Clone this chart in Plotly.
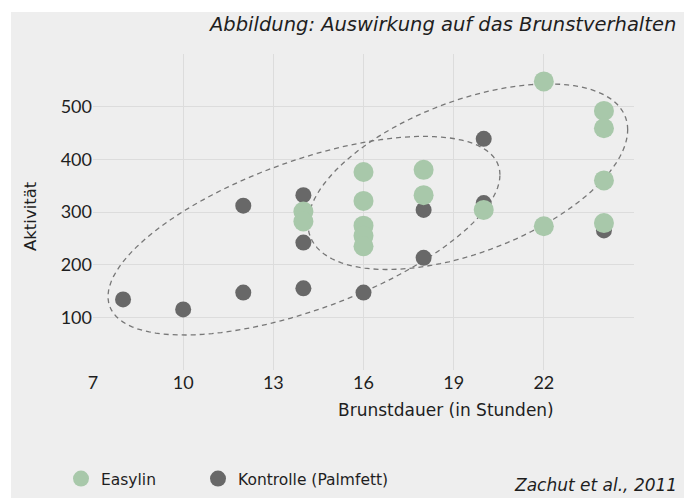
import numpy as np
import plotly.graph_objects as go

# ---------------- data ----------------
easylin_x = [14, 14, 16, 16, 16, 16, 16, 18, 18, 20, 22, 22, 24, 24, 24, 24]
easylin_y = [301, 282, 376, 321, 274, 255, 235, 380, 332, 304, 548, 273, 492, 459, 360, 279]

kontrolle_x = [8, 10, 12, 12, 14, 14, 14, 16, 18, 18, 20, 20, 24]
kontrolle_y = [134, 115, 312, 147, 332, 242, 155, 147, 304, 213, 439, 317, 265]

x_ticks = [7, 10, 13, 16, 19, 22]
x_grid = [10, 13, 16, 19, 22]
y_ticks = [100, 200, 300, 400, 500]

# ellipse outlines (center, conjugate semi-axis vectors) in data units
ellipse_kontrolle = dict(cx=14.02, cy=255, ux=6.52, uy=115.6, vx=0.0, vy=149)
ellipse_easylin = dict(cx=19.47, cy=367, ux=5.32, uy=89.1, vx=0.0, vy=152)

# ---------------- layout constants ----------------
W, H = 684, 498
ML, MR, MT, MB = 93, 50, 54, 128
PW, PH = W - ML - MR, H - MT - MB

FONT = "DejaVu Sans"
TICKFONT = "Lato"
BG = "#eeeeee"
GREEN = "#a8c8aa"
GRAY = "#686868"
TXT = "#1e1e1e"


def px2x(px):
    return (px - ML) / PW


def py2y(py):
    return 1 - (py - MT) / PH


def ellipse_path(e, n=120):
    t = np.linspace(0, 2 * np.pi, n)
    xs = e["cx"] + e["ux"] * np.cos(t) + e["vx"] * np.sin(t)
    ys = e["cy"] + e["uy"] * np.cos(t) + e["vy"] * np.sin(t)
    pts = [f"{x:.4f},{y:.3f}" for x, y in zip(xs, ys)]
    return "M " + " L ".join(pts) + " Z"


fig = go.Figure()

fig.add_trace(go.Scatter(
    x=kontrolle_x, y=kontrolle_y, mode="markers", name="Kontrolle (Palmfett)",
    marker=dict(color=GRAY, size=16, line=dict(width=0)), legend="legend2",
))
fig.add_trace(go.Scatter(
    x=easylin_x, y=easylin_y, mode="markers", name="Easylin",
    marker=dict(color=GREEN, size=20, line=dict(width=0)), legend="legend",
))

shapes = []
for e in (ellipse_kontrolle, ellipse_easylin):
    shapes.append(dict(type="path", xref="x", yref="y", path=ellipse_path(e),
                       line=dict(color="#777777", width=1.3, dash="5px,4px"),
                       layer="between"))
# white frame strips (top / left)
shapes.append(dict(type="rect", xref="paper", yref="paper",
                   x0=px2x(-5), x1=px2x(W + 5), y0=py2y(12), y1=py2y(-5),
                   fillcolor="white", line=dict(width=0), layer="below"))
shapes.append(dict(type="rect", xref="paper", yref="paper",
                   x0=px2x(-5), x1=px2x(11), y0=py2y(H + 5), y1=py2y(-5),
                   fillcolor="white", line=dict(width=0), layer="below"))

annotations = [
    dict(text="<i>Abbildung: Auswirkung auf das Brunstverhalten</i>",
         xref="paper", yref="paper", x=px2x(678), y=py2y(25),
         xanchor="right", yanchor="middle", showarrow=False,
         font=dict(family=FONT, size=19.5, color=TXT)),
    dict(text="Aktivität", xref="paper", yref="paper", x=px2x(30), y=py2y(216),
         xanchor="center", yanchor="middle", textangle=-90, showarrow=False,
         font=dict(family=FONT, size=16.5, color=TXT)),
    dict(text="Brunstdauer (in Stunden)", xref="paper", yref="paper",
         x=px2x(446), y=py2y(410), xanchor="center", yanchor="middle",
         showarrow=False, font=dict(family=FONT, size=17, color=TXT)),
    dict(text="<i>Zachut et al., 2011</i>", xref="paper", yref="paper",
         x=px2x(679), y=py2y(485), xanchor="right", yanchor="middle",
         showarrow=False, font=dict(family=FONT, size=17, color=TXT)),
]

legend_common = dict(orientation="h", yanchor="middle", xanchor="left",
                     font=dict(family=FONT, size=15.5, color=TXT),
                     bgcolor="rgba(0,0,0,0)", itemsizing="trace")

fig.update_layout(
    width=W, height=H,
    margin=dict(l=ML, r=MR, t=MT, b=MB, pad=0, autoexpand=False),
    paper_bgcolor=BG, plot_bgcolor=BG,
    font=dict(family=FONT, color=TXT),
    showlegend=True,
    legend=dict(x=px2x(61), y=py2y(479), **legend_common),
    legend2=dict(x=px2x(198), y=py2y(479), **legend_common),
    shapes=shapes,
    annotations=annotations,
    xaxis=dict(range=[7, 25], tickmode="array", tickvals=x_ticks,
               ticktext=[str(v) for v in x_ticks], showgrid=False,
               minor=dict(tickmode="array", tickvals=x_grid, showgrid=True,
                          gridcolor="#dcdcdc", gridwidth=1, ticks=""),
               zeroline=False, showline=False, ticks="",
               tickfont=dict(family=TICKFONT, size=18, color=TXT)),
    yaxis=dict(range=[0, 600], tickmode="array", tickvals=y_ticks,
               showgrid=True, gridcolor="#dcdcdc", gridwidth=1,
               zeroline=False, showline=False, ticks="",
               tickfont=dict(family=TICKFONT, size=18, color=TXT)),
)

fig.write_html(
    "out.html",
    config={"displayModeBar": False},
    post_script=(
        "document.body.style.margin='0';document.body.style.overflow='hidden';"
        "document.documentElement.style.overflow='hidden';"
    ),
)
